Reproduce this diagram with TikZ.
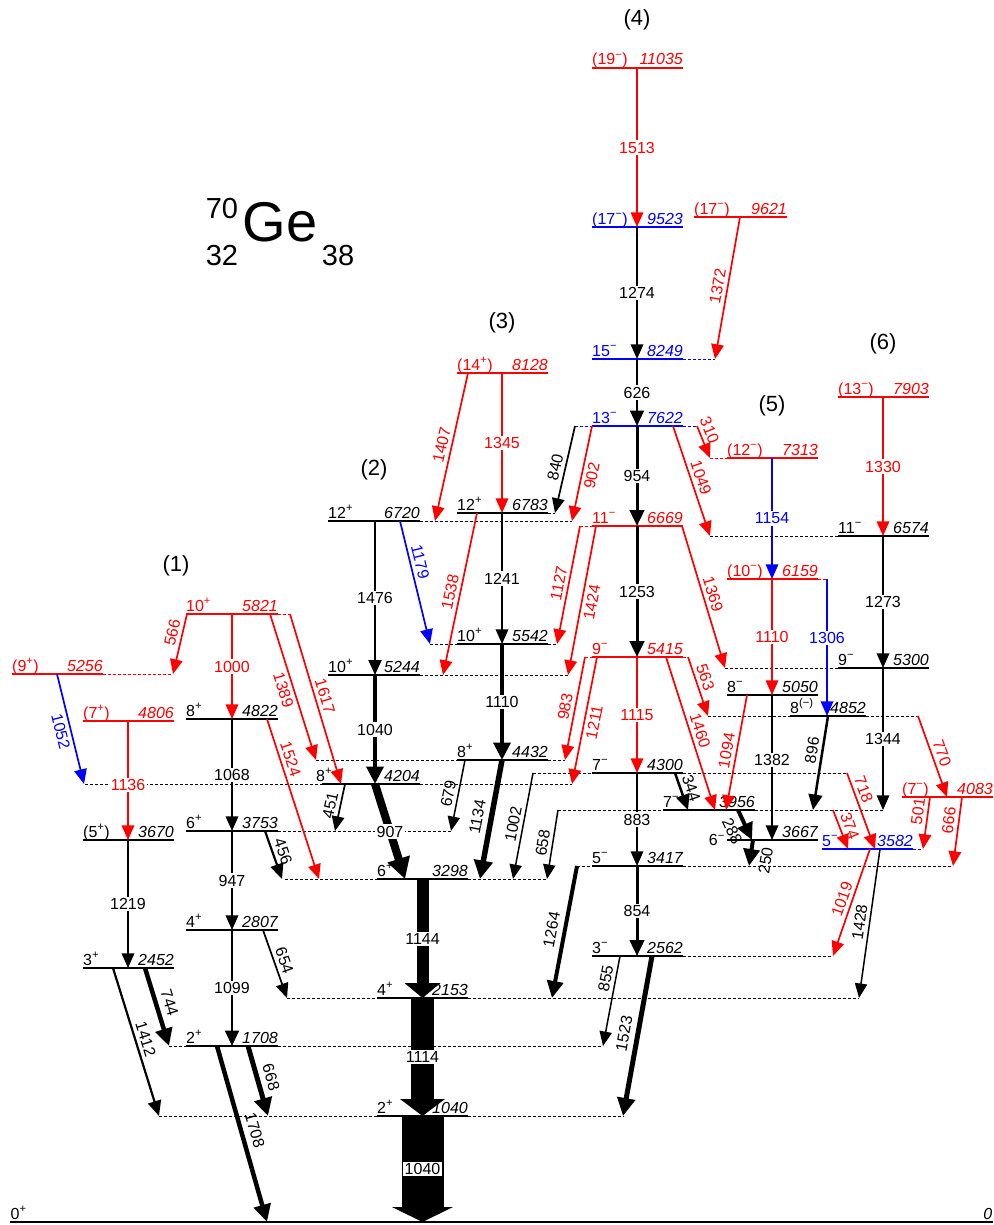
\documentclass[tikz,border=0pt]{standalone}
\usepackage{fontspec}
\setmainfont{Liberation Sans}
\usetikzlibrary{arrows.meta}

\tikzset{
	lvline/.style={line width=2.4pt},
	extline/.style={line width=0.9pt, dash pattern=on 3pt off 2pt},
	gam/.style={line width=1.7pt, -{Triangle[length=13pt 1, width=10pt 1.5]}},
	spinlab/.style={inner sep=0pt, yshift=3pt, anchor=base west, font=\fontsize{16}{16}\selectfont},
	enlab/.style={inner sep=0pt, yshift=3pt, anchor=base east, font=\fontsize{16}{16}\selectfont\itshape},
	vlab/.style={fill=white, inner sep=1.5pt, font=\fontsize{16}{16}\selectfont},
	slab/.style={sloped, inner sep=3.5pt, font=\fontsize{16}{16}\selectfont},
	thick lab/.style={inner sep=5.5pt},
	bandlab/.style={font=\fontsize{22}{22}\selectfont},
}

% level: name, colour, x1, x2, y, spin, energy
\newcommand{\elev}[7]{%
	\draw[lvline,#2] (#3,#5) coordinate (#1) -- (#4,#5) coordinate (#1r);
	\node[spinlab,#2] (#1s) at (#1) {#6};
	\node[enlab,#2] (#1e) at (#1r) {#7};}
% dashed extension of a level
\newcommand{\dext}[4][black]{\draw[extline,#1] (#3,0 |- #2) -- (#4,0 |- #2);}
\newcommand{\splus}{\textsuperscript{+}}
\newcommand{\sminus}{\textsuperscript{−}}

\begin{document}
\begin{tikzpicture}[x=1pt,y=-1pt]
	\useasboundingbox (0,0) rectangle (993,1225);
	
	%title and bands
	\node (Amass) at (222,209) {\fontsize{29}{29}\selectfont 70};
	\node (Gesym) at (280,222) {\fontsize{56}{56}\selectfont Ge};
	\node (Zno)   at (222,256) {\fontsize{29}{29}\selectfont 32};
	\node (Nno)   at (338,256) {\fontsize{29}{29}\selectfont 38};
	\node[bandlab] (b1) at (176,566) {(1)};
	\node[bandlab] (b2) at (374,470) {(2)};
	\node[bandlab] (b3) at (502,323) {(3)};
	\node[bandlab] (b4) at (637,20)  {(4)};
	\node[bandlab] (b5) at (772,406) {(5)};
	\node[bandlab] (b6) at (883,344) {(6)};
	
	%levels
	\elev{L0}{black,line width=1.4pt}{10}{993}{1222}{0\splus}{0}
	\elev{L5256}{red}{12}{103}{674}{(9\splus)}{5256}
	\elev{L4806}{red}{83}{174}{721}{(7\splus)}{4806}
	\elev{L3670}{black}{83}{174}{840}{(5\splus)}{3670}
	\elev{L2452}{black}{83}{174}{968}{3\splus}{2452}
	\elev{L5821}{red}{186}{278}{614}{10\splus}{5821}
	\elev{L4822}{black}{186}{278}{719}{8\splus}{4822}
	\elev{L3753}{black}{186}{278}{831}{6\splus}{3753}
	\elev{L2807}{black}{186}{278}{930}{4\splus}{2807}
	\elev{L1708}{black}{186}{278}{1046}{2\splus}{1708}
	\elev{L6720}{black}{328}{420}{521}{12\splus}{6720}
	\elev{L5244}{black}{328}{420}{675}{10\splus}{5244}
	\elev{L4204}{black}{322}{420}{784}{}{4204}
	\node[spinlab] (L4204s) at (316,784) {8\splus};
	\elev{L3298}{black}{377}{468}{879}{6\splus}{3298}
	\elev{L2153}{black}{377}{468}{998}{4\splus}{2153}
	\elev{L1040}{black}{377}{468}{1116}{2\splus}{1040}
	\elev{L8128}{red}{457}{548}{373}{(14\splus)}{8128}
	\elev{L6783}{black}{457}{548}{513}{12\splus}{6783}
	\elev{L5542}{black}{457}{548}{644}{10\splus}{5542}
	\elev{L4432}{black}{457}{548}{760}{8\splus}{4432}
	\elev{L11035}{red}{592}{683}{68}{(19\sminus)}{11035}
	\elev{L9523}{blue}{592}{683}{227}{(17\sminus)}{9523}
	\elev{L9621}{red}{694}{787}{217}{(17\sminus)}{9621}
	\elev{L8249}{blue}{592}{683}{359}{15\sminus}{8249}
	\elev{L7622}{blue}{592}{683}{426}{13\sminus}{7622}
	\elev{L6669}{red}{592}{683}{526}{11\sminus}{6669}
	\elev{L5415}{red}{592}{683}{657}{9\sminus}{5415}
	\elev{L4300}{black}{592}{683}{773}{7\sminus}{4300}
	\elev{L3417}{black}{592}{683}{866}{5\sminus}{3417}
	\elev{L2562}{black}{592}{683}{956}{3\sminus}{2562}
	\elev{L7313}{red}{727}{818}{458}{(12\sminus)}{7313}
	\elev{L6159}{red}{727}{818}{579}{(10\sminus)}{6159}
	\elev{L5050}{black}{727}{818}{695}{8\sminus}{5050}
	\elev{L4852}{black}{790}{866}{716}{8\textsuperscript{(−)}}{4852}
	\elev{L3956}{black}{663}{755}{810}{7\sminus}{3956}
	\elev{L3667}{black}{727}{818}{840}{}{3667}
	\node[font=\fontsize{16}{16}\selectfont, inner sep=0pt, anchor=east] (L3667l) at (725,840) {6\sminus};
	\elev{L3582}{blue}{822}{913}{849}{5\sminus}{3582}
	\elev{L7903}{red}{838}{929}{397}{(13\sminus)}{7903}
	\elev{L6574}{black}{838}{929}{536}{11\sminus}{6574}
	\elev{L5300}{black}{838}{929}{668}{9\sminus}{5300}
	\elev{L4083}{red}{902}{993}{797}{(7\sminus)}{4083}
	
	%dashed extensions
	\dext[red]{L5256}{103}{173}
	\dext[red]{L5821}{278}{290}
	\dext{L6720}{420}{572}
	\dext{L6783}{548}{555}
	\dext{L5542}{430}{457}  \dext{L5542}{548}{557}
	\dext{L5244}{420}{568}
	\dext{L4432}{316}{457}  \dext{L4432}{548}{565}
	\dext{L4204}{85}{322}   \dext{L4204}{420}{572}
	\dext{L3753}{278}{452}
	\dext{L3298}{285}{377}  \dext{L3298}{468}{547}
	\dext{L2153}{287}{377}  \dext{L2153}{468}{859}
	\dext{L1708}{169}{186}  \dext{L1708}{278}{603}
	\dext{L1040}{159}{377}  \dext{L1040}{468}{624}
	\dext[blue]{L8249}{683}{715}
	\dext[blue]{L7622}{575}{592}  \dext[blue]{L7622}{683}{697}
	\dext[red]{L6669}{580}{592}
	\dext[red]{L5415}{585}{592}   \dext[red]{L5415}{683}{688}
	\dext{L4300}{533}{592}  \dext{L4300}{683}{847}
	\dext{L3956}{558}{663}  \dext{L3956}{755}{883}
	\dext{L3417}{577}{592}  \dext{L3417}{683}{953}
	\dext{L2562}{683}{833}
	\dext[red]{L7313}{710}{727}
	\dext[red]{L6159}{818}{828}
	\dext{L6574}{710}{838}
	\dext{L5300}{725}{838}
	\dext{L4852}{708}{790}  \dext{L4852}{866}{918}
	\dext[blue]{L3582}{913}{923}
	
	%band (1) and left side
	\draw[gam,red] (232,0 |- L5821) -- node[vlab] (g1000) {1000} (232,0 |- L4822);
	\draw[gam,red] (187,0 |- L5821) -- node[slab,above,pos=.35] (g566) {566} (173,0 |- L5256);
	\draw[gam,red] (270,0 |- L5821) -- node[slab,below] (g1389) {1389} (316,0 |- L4432);
	\draw[gam,red] (290,0 |- L5821) -- node[slab,above] (g1617) {1617} (341,0 |- L4204);
	\draw[gam,blue] (57,0 |- L5256) -- node[slab,below] (g1052) {1052} (84,0 |- L4204);
	\draw[gam,red] (128,0 |- L4806) -- node[vlab,pos=.54] (g1136) {1136} (128,0 |- L3670);
	\draw[gam] (232,0 |- L4822) -- node[vlab] (g1068) {1068} (232,0 |- L3753);
	\draw[gam,red] (267,0 |- L4822) -- node[slab,above,pos=.27] (g1524) {1524} (319,0 |- L3298);
	\draw[gam,line width=2.2pt] (265,0 |- L3753) -- node[slab,above] (g456) {456} (282,0 |- L3298);
	\draw[gam] (232,0 |- L3753) -- node[vlab] (g947) {947} (232,0 |- L2807);
	\draw[gam] (128,0 |- L3670) -- node[vlab] (g1219) {1219} (128,0 |- L2452);
	\draw[gam] (263,0 |- L2807) -- node[slab,above] (g654) {654} (287,0 |- L2153);
	\draw[gam,line width=2.5pt] (232,0 |- L2807) -- node[vlab] (g1099) {1099} (232,0 |- L1708);
	\draw[gam,line width=4.5pt] (145,0 |- L2452) -- node[slab,thick lab,above] (g744) {744} (169,0 |- L1708);
	\draw[gam,line width=2.2pt] (113,0 |- L2452) -- node[slab,above] (g1412) {1412} (159,0 |- L1040);
	\draw[gam,line width=5pt] (248,0 |- L1708) -- node[slab,thick lab,above] (g668) {668} (268,0 |- L1040);
	\draw[gam,line width=4.5pt] (217,0 |- L1708) -- node[slab,thick lab,above] (g1708) {1708} (267,0 |- L0);
	
	%band (2)
	\draw[gam,line width=2pt] (375,0 |- L6720) -- node[vlab] (g1476) {1476} (375,0 |- L5244);
	\draw[gam,blue] (400,0 |- L6720) -- node[slab,above,pos=.35] (g1179) {1179} (430,0 |- L5542);
	\draw[gam,line width=4.5pt] (375,0 |- L5244) -- node[vlab] (g1040a) {1040} (375,0 |- L4204);
	\draw[gam,line width=8pt] (375,0 |- L4204) -- node[vlab] (g907) {907} (405,0 |- L3298);
	\draw[gam] (345,0 |- L4204) -- node[slab,above] (g451) {451} (335,0 |- L3753);
	
	%band (3)
	\draw[gam,red] (502,0 |- L8128) -- node[vlab] (g1345) {1345} (502,0 |- L6783);
	\draw[gam,red] (468,0 |- L8128) -- node[slab,above] (g1407) {1407} (435,0 |- L6720);
	\draw[gam] (502,0 |- L6783) -- node[vlab] (g1241) {1241} (502,0 |- L5542);
	\draw[gam,red] (477,0 |- L6783) -- node[slab,above] (g1538) {1538} (443,0 |- L5244);
	\draw[gam,line width=4.5pt] (502,0 |- L5542) -- node[vlab] (g1110a) {1110} (502,0 |- L4432);
	\draw[gam,line width=5.5pt] (502,0 |- L4432) -- node[slab,thick lab,above] (g1134) {1134} (480,0 |- L3298);
	\draw[gam,line width=1.5pt] (465,0 |- L4432) -- node[slab,above] (g679) {679} (451,0 |- L3753);
	
	%ground band
	\draw[line width=12pt,-{Triangle[length=15pt,width=36pt,line width=0pt]}] (422.5,0 |- L3298) -- node[vlab] (g1144) {1144} (422.5,0 |- L2153);
	\draw[line width=23pt,-{Triangle[length=17pt,width=45pt,line width=0pt]}] (422.5,0 |- L2153) -- node[vlab] (g1114) {1114} (422.5,0 |- L1040);
	\draw[line width=42pt,-{Triangle[length=15pt,width=61pt,line width=0pt]}] (422.5,0 |- L1040) -- node[vlab] (g1040b) {1040} (422.5,0 |- L0);
	
	%band (4)
	\draw[gam,red] (637,0 |- L11035) -- node[vlab] (g1513) {1513} (637,0 |- L9523);
	\draw[gam] (637,0 |- L9523) -- node[vlab] (g1274) {1274} (637,0 |- L8249);
	\draw[gam,red] (740,0 |- L9621) -- node[slab,above] (g1372) {1372} (715,0 |- L8249);
	\draw[gam,line width=2.5pt] (637,0 |- L8249) -- node[vlab] (g626) {626} (637,0 |- L7622);
	\draw[gam,line width=3pt] (637,0 |- L7622) -- node[vlab] (g954) {954} (637,0 |- L6669);
	\draw[gam] (575,0 |- L7622) -- node[slab,above] (g840) {840} (555,0 |- L6783);
	\draw[gam,red] (592,0 |- L7622) -- node[slab,below] (g902) {902} (572,0 |- L6720);
	\draw[gam,line width=3pt] (637,0 |- L6669) -- node[vlab] (g1253) {1253} (637,0 |- L5415);
	\draw[gam,red] (580,0 |- L6669) -- node[slab,above] (g1127) {1127} (557,0 |- L5542);
	\draw[gam,red] (596,0 |- L6669) -- node[slab,below] (g1424) {1424} (568,0 |- L5244);
	\draw[gam,red] (637,0 |- L5415) -- node[vlab] (g1115) {1115} (637,0 |- L4300);
	\draw[gam,red] (585,0 |- L5415) -- node[slab,above] (g983) {983} (565,0 |- L4432);
	\draw[gam,red] (597,0 |- L5415) -- node[slab,below] (g1211) {1211} (572,0 |- L4204);
	\draw[gam] (637,0 |- L4300) -- node[vlab] (g883) {883} (637,0 |- L3417);
	\draw[gam,line width=1.5pt] (533,0 |- L4300) -- node[slab,above] (g1002) {1002} (513,0 |- L3298);
	\draw[gam,line width=1.5pt] (558,0 |- L3956) -- node[slab,above] (g658) {658} (547,0 |- L3298);
	\draw[gam,line width=3pt] (637,0 |- L3417) -- node[vlab] (g854) {854} (637,0 |- L2562);
	\draw[gam,line width=4pt] (577,0 |- L3417) -- node[slab,thick lab,above] (g1264) {1264} (552,0 |- L2153);
	\draw[gam,line width=1.5pt] (620,0 |- L2562) -- node[slab,above,pos=.27] (g855) {855} (603,0 |- L1708);
	\draw[gam,line width=5pt] (652,0 |- L2562) -- node[slab,thick lab,above] (g1523) {1523} (623,0 |- L1040);
	
	%band (5)
	\draw[gam,red] (697,0 |- L7622) -- node[slab,above,pos=.25] (g310) {310} (710,0 |- L7313);
	\draw[gam,red] (673,0 |- L7622) -- node[slab,above] (g1049) {1049} (710,0 |- L6574);
	\draw[gam,blue] (772,0 |- L7313) -- node[vlab] (g1154) {1154} (772,0 |- L6159);
	\draw[gam,red] (772,0 |- L6159) -- node[vlab] (g1110b) {1110} (772,0 |- L5050);
	\draw[gam,blue] (827,0 |- L6159) -- node[vlab,pos=.43] (g1306) {1306} (827,0 |- L4852);
	\draw[gam,red] (682,0 |- L6669) -- node[slab,above] (g1369) {1369} (725,0 |- L5300);
	\draw[gam,red] (688,0 |- L5415) -- node[slab,above,pos=.4] (g563) {563} (708,0 |- L4852);
	\draw[gam,red] (666,0 |- L5415) -- node[slab,above] (g1460) {1460} (715,0 |- L3956);
	\draw[gam] (772,0 |- L5050) -- node[vlab,pos=.45] (g1382) {1382} (772,0 |- L3667);
	\draw[gam,red] (747,0 |- L5050) -- node[slab,above] (g1094) {1094} (726,0 |- L3956);
	\draw[gam,line width=2.5pt] (675,0 |- L4300) -- node[slab,above] (g344) {344} (688,0 |- L3956);
	\draw[gam,line width=2.5pt] (828,0 |- L4852) -- node[slab,above,pos=.38] (g896) {896} (813,0 |- L3956);
	\draw[gam,line width=4pt] (738,0 |- L3956) -- node[slab,below,inner sep=6.5pt] (g288) {288} (752,0 |- L3667);
	\draw[gam,line width=4pt] (753,0 |- L3667) -- node[slab,below,inner sep=8pt,pos=.7] (g250) {250} (749,0 |- L3417);
	\draw[gam,red] (847,0 |- L4300) -- node[slab,above,pos=.26] (g718) {718} (875,0 |- L3582);
	\draw[gam,red] (833,0 |- L3956) -- node[slab,above] (g374) {374} (848,0 |- L3582);
	\draw[gam,red] (870,0 |- L3582) -- node[slab,above] (g1019) {1019} (833,0 |- L2562);
	\draw[gam,line width=1.5pt] (880,0 |- L3582) -- node[slab,above] (g1428) {1428} (859,0 |- L2153);
	
	%band (6)
	\draw[gam,red] (883,0 |- L7903) -- node[vlab] (g1330) {1330} (883,0 |- L6574);
	\draw[gam] (883,0 |- L6574) -- node[vlab] (g1273) {1273} (883,0 |- L5300);
	\draw[gam] (883,0 |- L5300) -- node[vlab] (g1344) {1344} (883,0 |- L3956);
	\draw[gam,red] (918,0 |- L4852) -- node[slab,above] (g770) {770} (947,0 |- L4083);
	\draw[gam,red] (930,0 |- L4083) -- node[slab,above,pos=.3] (g501) {501} (923,0 |- L3582);
	\draw[gam,red] (962,0 |- L4083) -- node[slab,above,pos=.36] (g666) {666} (953,0 |- L3417);
	
\end{tikzpicture}
\end{document}
